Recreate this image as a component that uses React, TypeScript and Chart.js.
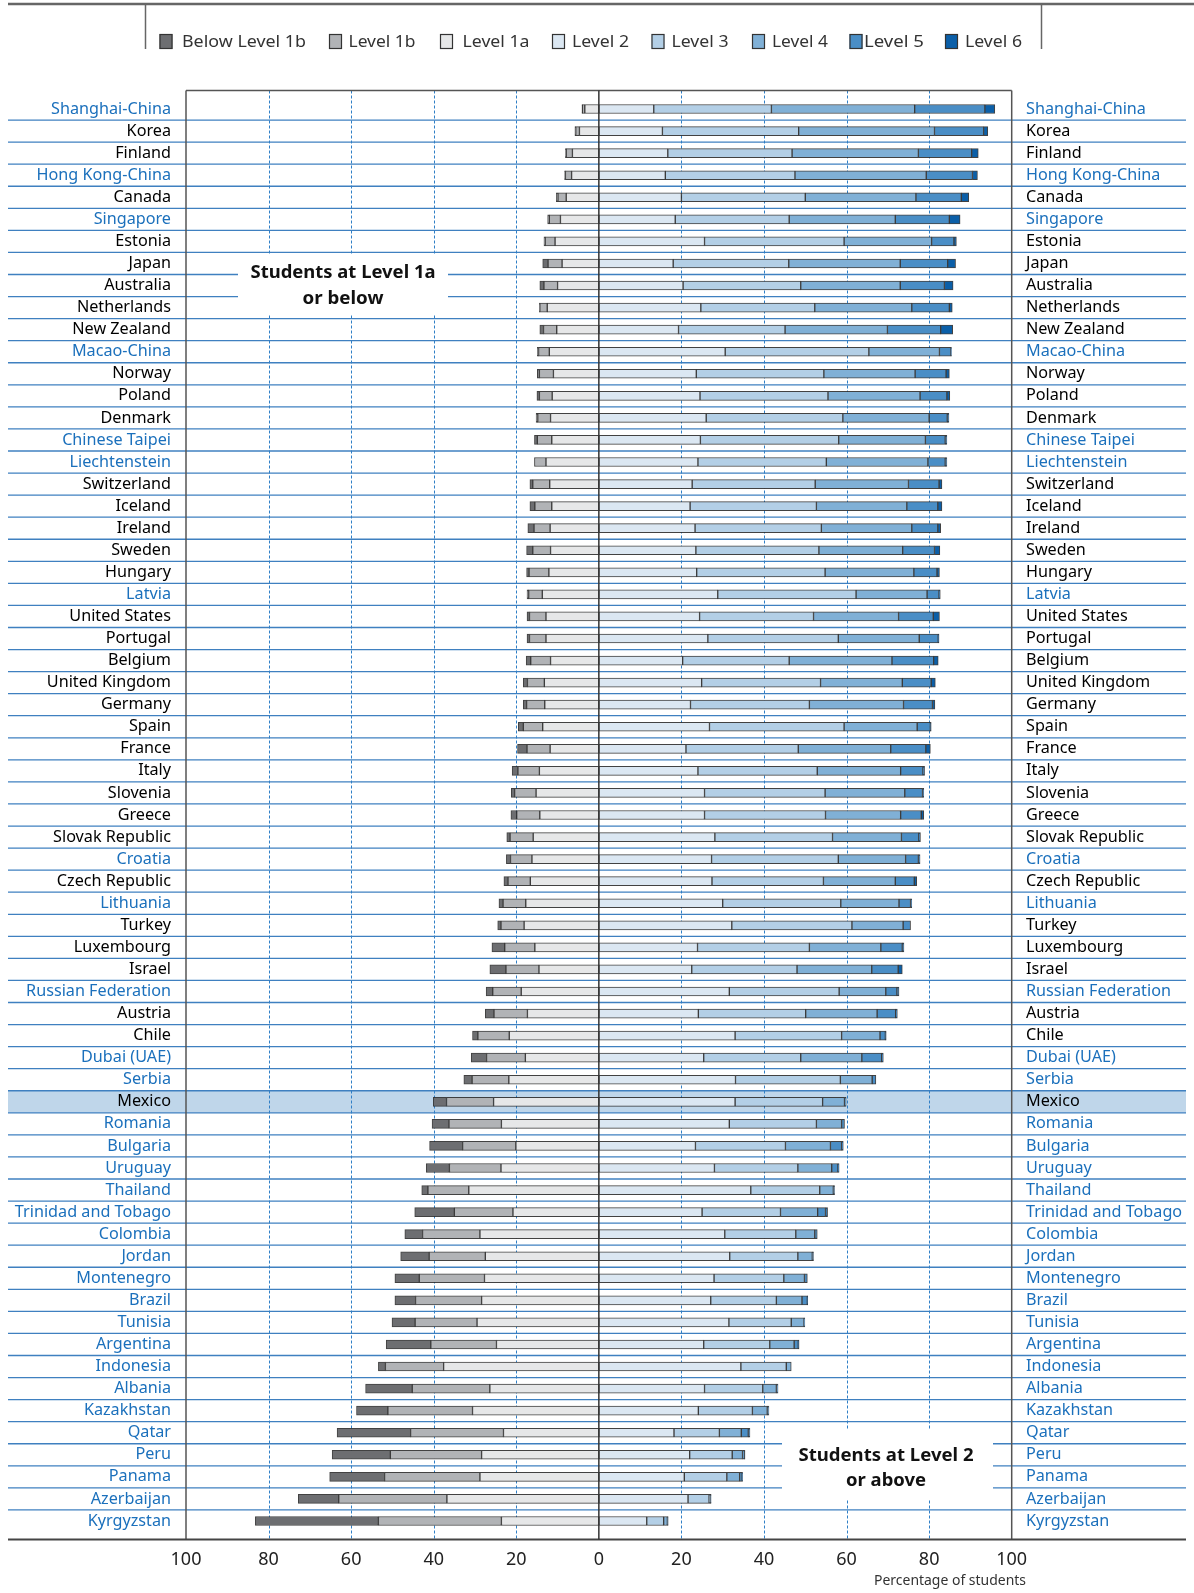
import React, { useEffect, useRef } from "react";
import { Chart, registerables } from "chart.js";

Chart.register(...registerables);

// ---------------- DATA ----------------
const countries = [
  "Shanghai-China", "Korea", "Finland", "Hong Kong-China", "Canada", "Singapore", "Estonia", "Japan",
  "Australia", "Netherlands", "New Zealand", "Macao-China", "Norway", "Poland", "Denmark", "Chinese Taipei",
  "Liechtenstein", "Switzerland", "Iceland", "Ireland", "Sweden", "Hungary", "Latvia", "United States",
  "Portugal", "Belgium", "United Kingdom", "Germany", "Spain", "France", "Italy", "Slovenia", "Greece",
  "Slovak Republic", "Croatia", "Czech Republic", "Lithuania", "Turkey", "Luxembourg", "Israel",
  "Russian Federation", "Austria", "Chile", "Dubai (UAE)", "Serbia", "Mexico", "Romania", "Bulgaria",
  "Uruguay", "Thailand", "Trinidad and Tobago", "Colombia", "Jordan", "Montenegro", "Brazil", "Tunisia",
  "Argentina", "Indonesia", "Albania", "Kazakhstan", "Qatar", "Peru", "Panama", "Azerbaijan", "Kyrgyzstan",
];

const partnerCountries = [
  "Shanghai-China", "Hong Kong-China", "Singapore", "Macao-China", "Chinese Taipei", "Liechtenstein",
  "Latvia", "Croatia", "Lithuania", "Russian Federation", "Dubai (UAE)", "Serbia", "Romania", "Bulgaria",
  "Uruguay", "Thailand", "Trinidad and Tobago", "Colombia", "Jordan", "Montenegro", "Brazil", "Tunisia",
  "Argentina", "Indonesia", "Albania", "Kazakhstan", "Qatar", "Peru", "Panama", "Azerbaijan", "Kyrgyzstan",
];

const highlightedCountry = "Mexico";

const belowLevel1b = [
  0.1, 0.2, 0.2, 0.2, 0.4, 0.4, 0.3, 1.3, 1.0, 0.1, 0.9, 0.3, 0.5, 0.6, 0.4, 0.7, 0.0, 0.7, 1.2, 1.5,
  1.5, 0.6, 0.4, 0.6, 0.6, 1.1, 1.0, 0.8, 1.2, 2.3, 1.4, 0.8, 1.4, 0.8, 1.0, 1.0, 1.0, 0.8, 3.1, 3.9,
  1.6, 2.1, 1.3, 3.7, 2.0, 3.2, 4.1, 8.0, 5.6, 1.5, 9.6, 4.3, 6.9, 5.9, 5.0, 5.6, 10.8, 1.7, 11.3, 7.6,
  17.8, 14.1, 13.3, 9.8, 29.8,
];
const level1b = [
  0.6, 0.9, 1.5, 1.5, 2.0, 2.7, 2.4, 3.4, 3.3, 1.8, 3.2, 2.6, 3.4, 3.1, 3.1, 3.5, 2.8, 4.1, 4.1, 3.9,
  4.3, 4.8, 3.3, 4.0, 4.0, 4.8, 4.1, 4.4, 4.7, 5.6, 5.2, 5.2, 5.6, 5.6, 5.2, 5.4, 5.5, 5.6, 7.3, 8.0,
  6.9, 8.1, 7.6, 9.4, 8.9, 11.4, 12.7, 12.9, 12.5, 9.9, 14.2, 13.9, 13.6, 15.8, 16.0, 15.0, 15.9, 14.1, 18.8, 20.5,
  22.5, 22.1, 23.1, 26.2, 29.8,
];
const level1a = [
  3.4, 4.7, 6.4, 6.6, 7.9, 9.3, 10.6, 8.9, 10.0, 12.5, 10.2, 12.0, 11.0, 11.3, 11.7, 11.4, 12.8, 11.9, 11.4, 11.8,
  11.7, 12.1, 13.7, 12.8, 12.8, 11.7, 13.2, 13.1, 13.6, 11.8, 14.4, 15.2, 14.3, 15.9, 16.2, 16.6, 17.7, 18.1, 15.5, 14.5,
  18.8, 17.3, 21.7, 17.8, 21.8, 25.5, 23.6, 20.1, 23.7, 31.5, 20.8, 28.8, 27.5, 27.7, 28.4, 29.5, 24.8, 37.6, 26.4, 30.6,
  23.1, 28.4, 28.8, 36.8, 23.6,
];
const level2 = [
  13.3, 15.4, 16.7, 16.1, 20.0, 18.5, 25.6, 18.0, 20.4, 24.7, 19.3, 30.6, 23.6, 24.5, 26.0, 24.6, 24.0, 22.6, 22.1, 23.3,
  23.5, 23.7, 28.8, 24.4, 26.4, 20.3, 24.9, 22.2, 26.8, 21.1, 24.0, 25.6, 25.6, 28.1, 27.3, 27.4, 30.0, 32.2, 23.9, 22.5,
  31.6, 24.1, 33.0, 25.4, 33.1, 33.0, 31.6, 23.4, 28.0, 36.8, 25.0, 30.5, 31.7, 27.9, 27.1, 31.5, 25.4, 34.4, 25.6, 24.1,
  18.2, 22.0, 20.7, 21.6, 11.6,
];
const level3 = [
  28.5, 33.0, 30.1, 31.4, 30.0, 27.6, 33.8, 28.0, 28.5, 27.6, 25.8, 34.8, 30.9, 31.0, 33.1, 33.5, 31.1, 29.8, 30.6, 30.6,
  29.8, 31.1, 33.5, 27.6, 31.6, 25.8, 28.8, 28.8, 32.6, 27.2, 28.9, 29.2, 29.3, 28.5, 30.7, 27.0, 28.6, 29.1, 27.1, 25.5,
  26.6, 26.0, 25.8, 23.5, 25.4, 21.2, 21.1, 21.8, 20.2, 16.7, 19.0, 17.2, 16.5, 16.9, 15.9, 15.1, 16.0, 11.0, 14.1, 13.1,
  11.0, 10.3, 10.3, 5.1, 4.1,
];
const level4 = [
  34.7, 32.9, 30.6, 31.8, 26.8, 25.7, 21.2, 27.0, 24.1, 23.5, 24.8, 17.1, 22.1, 22.3, 20.9, 21.0, 24.6, 22.6, 21.9, 21.9,
  20.3, 21.5, 17.2, 20.6, 19.6, 24.9, 19.8, 22.8, 17.7, 22.4, 20.2, 19.3, 18.2, 16.7, 16.3, 17.4, 14.1, 12.4, 17.3, 18.1,
  11.3, 17.3, 9.3, 14.8, 7.7, 5.3, 6.1, 10.9, 8.2, 3.3, 9.0, 4.6, 3.5, 5.0, 6.2, 3.1, 5.9, 1.2, 3.3, 3.6,
  5.3, 2.5, 3.1, 0.4, 0.9,
];
const level5 = [
  17.0, 11.9, 12.9, 11.2, 11.0, 13.1, 5.4, 11.5, 10.7, 9.1, 12.9, 2.8, 7.5, 6.5, 4.4, 4.8, 4.2, 7.4, 7.5, 6.3,
  7.7, 5.6, 2.9, 8.4, 4.6, 10.1, 7.0, 7.0, 3.2, 8.5, 5.4, 4.3, 5.0, 4.2, 3.1, 4.6, 2.8, 1.8, 5.2, 6.4,
  2.7, 4.5, 1.3, 4.8, 0.9, 0.4, 0.7, 2.7, 1.5, 0.3, 1.9, 0.6, 0.3, 0.7, 1.3, 0.2, 1.0, 0.0, 0.4, 0.4,
  1.7, 0.5, 0.6, 0.1, 0.2,
];
const level6 = [
  2.4, 1.0, 1.6, 1.2, 1.8, 2.6, 0.6, 1.9, 2.1, 0.7, 2.9, 0.1, 0.8, 0.7, 0.4, 0.4, 0.4, 0.7, 1.0, 0.7,
  1.3, 0.6, 0.3, 1.5, 0.2, 1.1, 1.0, 0.6, 0.2, 1.1, 0.4, 0.3, 0.6, 0.4, 0.4, 0.6, 0.3, 0.0, 0.4, 1.0,
  0.5, 0.4, 0.2, 0.4, 0.0, 0.0, 0.0, 0.4, 0.3, 0.0, 0.5, 0.0, 0.0, 0.0, 0.1, 0.0, 0.2, 0.0, 0.0, 0.0,
  0.4, 0.1, 0.1, 0.0, 0.0,
];

const levelNames = ["Below Level 1b", "Level 1b", "Level 1a", "Level 2", "Level 3", "Level 4", "Level 5", "Level 6"];
const xTickValues = [-100, -80, -60, -40, -20, 0, 20, 40, 60, 80, 100];
const axisTitle = "Percentage of students";
const leftNote = ["Students at Level 1a", "or below"];
const rightNote = ["Students at Level 2", "or above"];

// ---------------- STYLE ----------------
const levelColors = ["#6d6e71", "#b1b3b6", "#e6e7e8", "#dbe7f2", "#b3cfe6", "#80b0d6", "#4a8ec6", "#0b5fa8"];
const FONT = '"Noto Sans", "DejaVu Sans", sans-serif';
const BLUE_LABEL = "#1b70bc";
const BLACK_LABEL = "#000000";

// legend layout (box left x, text left x, text width)
const legendBoxX = [159.5, 329, 440, 552, 651.5, 752, 849.5, 945];
const legendTextX = [182, 348.5, 462.5, 572, 671.5, 772, 864, 965];
const legendTextW = [124, 67, 67, 57, 57, 56, 60, 57];

function fitText(ctx: CanvasRenderingContext2D, text: string, x: number, y: number, width: number, align: string) {
  const w = ctx.measureText(text).width || 1;
  const s = width / w;
  const left = align === "center" ? x - width / 2 : align === "right" ? x - width : x;
  ctx.save();
  ctx.translate(left, y);
  ctx.scale(s, 1);
  ctx.textAlign = "left";
  ctx.fillText(text, 0, 0);
  ctx.restore();
}

function line(ctx: CanvasRenderingContext2D, x1: number, y1: number, x2: number, y2: number) {
  ctx.beginPath();
  ctx.moveTo(x1, y1);
  ctx.lineTo(x2, y2);
  ctx.stroke();
}

const decorPlugin = {
  id: "decor",
  beforeDraw(chart: any) {
    const { ctx, chartArea: ca, scales } = chart;
    const ys = scales.y;
    const xs = scales.x;
    const band = ys.getPixelForValue(1) - ys.getPixelForValue(0);
    const frameTop = ca.top - 7.5;
    const frameBottom = ca.bottom + 7.5;
    const L = 8;
    const R = 1186;
    ctx.save();
    ctx.fillStyle = "#ffffff";
    ctx.fillRect(0, 0, chart.width, chart.height);

    // highlighted row
    const hi = countries.indexOf(highlightedCountry);
    const hy = ys.getPixelForValue(hi);
    ctx.fillStyle = "#bfd6ea";
    ctx.fillRect(L, hy - band / 2, R - L, band);

    // row separators
    ctx.strokeStyle = "#3f80c0";
    ctx.lineWidth = 1.3;
    for (let i = 0; i < countries.length - 1; i++) {
      const yy = (ys.getPixelForValue(i) + ys.getPixelForValue(i + 1)) / 2;
      line(ctx, L, yy, R, yy);
    }

    // dashed vertical grid
    ctx.setLineDash([3, 2]);
    ctx.strokeStyle = "#2f7fc6";
    ctx.lineWidth = 1;
    xTickValues.forEach((v) => {
      if (v === 0 || Math.abs(v) === 100) return;
      const xx = Math.round(xs.getPixelForValue(v)) + 0.5;
      line(ctx, xx, frameTop, xx, frameBottom);
    });
    ctx.setLineDash([]);

    // annotation boxes
    ctx.fillStyle = "#ffffff";
    ctx.fillRect(238, 255, 210, 60);
    ctx.fillRect(782, 1429, 211, 70);
    ctx.fillStyle = "#111111";
    ctx.textBaseline = "middle";
    ctx.font = `bold 18px ${FONT}`;
    fitText(ctx, leftNote[0], 343, 273, 185, "center");
    fitText(ctx, leftNote[1], 343, 298.5, 81, "center");
    fitText(ctx, rightNote[0], 886, 1455.5, 175, "center");
    fitText(ctx, rightNote[1], 886, 1480.5, 80, "center");

    // frame
    ctx.strokeStyle = "#555555";
    ctx.lineWidth = 1.5;
    const xl = xs.getPixelForValue(-100);
    const xr = xs.getPixelForValue(100);
    line(ctx, xl, frameTop, xr, frameTop);
    line(ctx, xl, frameTop, xl, frameBottom);
    line(ctx, xr, frameTop, xr, frameBottom);
    ctx.lineWidth = 2;
    ctx.strokeStyle = "#444444";
    line(ctx, L, frameBottom, R, frameBottom);
    ctx.restore();
  },
  afterDatasetsDraw(chart: any) {
    const { ctx, chartArea: ca, scales } = chart;
    const x0 = scales.x.getPixelForValue(0);
    ctx.save();
    ctx.strokeStyle = "#333333";
    ctx.lineWidth = 1.5;
    line(ctx, x0, ca.top - 7.5, x0, ca.bottom + 7.5);
    ctx.restore();
  },
  afterDraw(chart: any) {
    const { ctx } = chart;
    ctx.save();
    // legend frame
    ctx.strokeStyle = "#666666";
    ctx.lineWidth = 2.5;
    line(ctx, 8, 4, 1194, 4);
    ctx.lineWidth = 1.5;
    line(ctx, 145.5, 4, 145.5, 49);
    line(ctx, 1041.5, 4, 1041.5, 49);
    // legend items
    ctx.font = `17px ${FONT}`;
    ctx.textBaseline = "middle";
    levelNames.forEach((name, i) => {
      ctx.fillStyle = levelColors[i];
      ctx.fillRect(legendBoxX[i], 34, 13, 15);
      ctx.strokeStyle = "#333333";
      ctx.lineWidth = 1.2;
      ctx.strokeRect(legendBoxX[i] + 0.5, 34.5, 12, 14);
      ctx.fillStyle = "#333333";
      fitText(ctx, name, legendTextX[i], 42, legendTextW[i], "left");
    });
    // axis title
    ctx.font = `14px ${FONT}`;
    ctx.fillStyle = "#333333";
    fitText(ctx, axisTitle, 1026, 1581, 152, "right");
    ctx.restore();
  },
};

export default function App() {
  const ref = useRef<HTMLCanvasElement>(null);
  useEffect(() => {
    const common = {
      borderColor: "rgba(45,45,45,0.9)",
      borderWidth: 1,
      borderSkipped: false,
      barThickness: 9,
      stack: "s",
    };
    const datasets = [
      { label: levelNames[2], data: level1a.map((v) => -v), backgroundColor: levelColors[2], ...common },
      { label: levelNames[1], data: level1b.map((v) => -v), backgroundColor: levelColors[1], ...common },
      { label: levelNames[0], data: belowLevel1b.map((v) => -v), backgroundColor: levelColors[0], ...common },
      { label: levelNames[3], data: level2, backgroundColor: levelColors[3], ...common },
      { label: levelNames[4], data: level3, backgroundColor: levelColors[4], ...common },
      { label: levelNames[5], data: level4, backgroundColor: levelColors[5], ...common },
      { label: levelNames[6], data: level5, backgroundColor: levelColors[6], ...common },
      { label: levelNames[7], data: level6, backgroundColor: levelColors[7], ...common },
    ];
    const labelColor = (c: any) => (partnerCountries.includes(countries[c.index]) ? BLUE_LABEL : BLACK_LABEL);
    const chart = new Chart(ref.current as HTMLCanvasElement, {
      type: "bar",
      data: { labels: countries, datasets: datasets as any },
      plugins: [decorPlugin],
      options: {
        indexAxis: "y",
        animation: false,
        responsive: false,
        maintainAspectRatio: false,
        devicePixelRatio: 1,
        layout: { padding: { left: 0, right: 0, top: 98, bottom: 21 } },
        plugins: { legend: { display: false }, tooltip: { enabled: false } },
        scales: {
          x: {
            type: "linear",
            position: "bottom",
            min: -100,
            max: 100,
            stacked: true,
            grid: { display: false, drawTicks: false },
            border: { display: false },
            afterFit: (s: any) => {
              s.height = 40;
            },
            ticks: {
              stepSize: 20,
              padding: 17,
              maxRotation: 0,
              color: "#222222",
              font: { family: FONT, size: 18 },
              callback: (v: any) => String(Math.abs(Number(v))),
            },
          },
          y: {
            type: "category",
            position: "left",
            stacked: true,
            offset: true,
            grid: { display: false, drawTicks: false },
            border: { display: false },
            afterFit: (s: any) => {
              s.width = 186;
            },
            ticks: {
              autoSkip: false,
              padding: 15,
              color: labelColor,
              font: { family: FONT, size: 16.2 },
            },
          },
          y2: {
            type: "category",
            position: "right",
            labels: countries,
            offset: true,
            grid: { display: false, drawTicks: false },
            border: { display: false },
            afterFit: (s: any) => {
              s.width = 182.3;
            },
            ticks: {
              autoSkip: false,
              padding: 14.3,
              color: labelColor,
              font: { family: FONT, size: 16.2 },
            },
          },
        },
      } as any,
    });
    return () => chart.destroy();
  }, []);
  return (
    <div style={{ position: "absolute", left: 0, top: 0, width: 1194, height: 1593, background: "#fff" }}>
      <canvas ref={ref} width={1194} height={1593} style={{ display: "block", width: 1194, height: 1593 }} />
    </div>
  );
}
